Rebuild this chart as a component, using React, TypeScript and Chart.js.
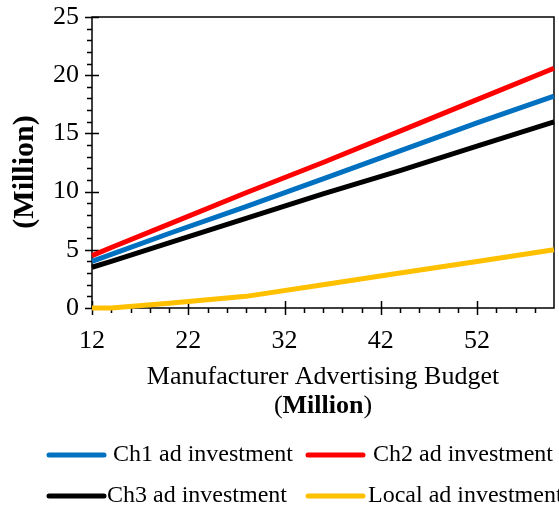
import React, { useEffect, useRef } from 'react';
import { Chart, registerables } from 'chart.js';

Chart.register(...registerables);

// ---- data ----
const budget = [12, 14, 20, 28, 36, 44, 52, 60];
const ch1 = [4.0, 4.6, 6.4, 8.7, 11.1, 13.5, 15.9, 18.2];
const ch2 = [4.5, 5.2, 7.2, 9.9, 12.5, 15.2, 17.9, 20.6];
const ch3 = [3.5, 4.0, 5.6, 7.7, 9.8, 11.8, 13.9, 16.0];
const local = [0, 0, 0.4, 1.0, 2.0, 3.0, 4.0, 5.0];
const seriesNames = ['Ch1 ad investment', 'Ch2 ad investment', 'Ch3 ad investment', 'Local ad investment'];
const xLabelTicks = [12, 22, 32, 42, 52];
const yLabelTicks = [0, 5, 10, 15, 20, 25];
const xTitle = 'Manufacturer Advertising Budget';
const unitText = 'Million';

// ---- styles ----
const colors = ['#0070C0', '#FF0000', '#000000', '#FFC000'];
const FONT = "'Liberation Serif', 'Times New Roman', serif";
const legendPos = [
  { lx: 49, tx: 113, y: 455 },
  { lx: 308, tx: 373, y: 455 },
  { lx: 49, tx: 107, y: 496 },
  { lx: 308, tx: 368, y: 496 },
];

const framePlugin = {
  id: 'frame',
  beforeDatasetsDraw(chart: any) {
    const { ctx, chartArea } = chart;
    const { left, right, top, bottom } = chartArea;
    const xs = chart.scales.x;
    const ys = chart.scales.y;
    ctx.save();
    ctx.strokeStyle = '#000';
    ctx.lineWidth = 1.5;
    ctx.beginPath();
    ctx.moveTo(left, top);
    ctx.lineTo(right, top);
    ctx.lineTo(right, bottom);
    ctx.lineTo(left, bottom);
    ctx.closePath();
    ctx.stroke();
    ctx.beginPath();
    xs.ticks.forEach((t: any) => {
      if (t.value >= xs.max) return;
      const px = Math.round(xs.getPixelForValue(t.value)) + 0.5;
      if (xLabelTicks.includes(t.value)) {
        ctx.moveTo(px, bottom - 7);
        ctx.lineTo(px, bottom + 7);
      } else {
        ctx.moveTo(px, bottom);
        ctx.lineTo(px, bottom + 5);
      }
    });
    ys.ticks.forEach((t: any) => {
      const py = Math.round(ys.getPixelForValue(t.value)) + 0.5;
      if (yLabelTicks.includes(t.value)) {
        ctx.moveTo(left - 7, py);
        ctx.lineTo(left + 7, py);
      } else {
        ctx.moveTo(left - 5, py);
        ctx.lineTo(left, py);
      }
    });
    ctx.stroke();
    ctx.restore();
  },
  afterDraw(chart: any) {
    const { ctx, chartArea } = chart;
    const cx = (chartArea.left + chartArea.right) / 2;
    ctx.save();
    ctx.fillStyle = '#000';
    ctx.textBaseline = 'middle';
    // x title
    ctx.textAlign = 'center';
    ctx.font = `26px ${FONT}`;
    ctx.fillText(xTitle, cx, 377);
    // mixed second line
    const regular = `26px ${FONT}`;
    const bold = `bold 26px ${FONT}`;
    ctx.font = regular;
    const wp = ctx.measureText('(').width;
    const wp2 = ctx.measureText(')').width;
    ctx.font = bold;
    const wm = ctx.measureText(unitText).width;
    let x = cx - (wp + wm + wp2) / 2;
    ctx.textAlign = 'left';
    ctx.font = regular;
    ctx.fillText('(', x, 406);
    x += wp;
    ctx.font = bold;
    ctx.fillText(unitText, x, 406);
    x += wm;
    ctx.font = regular;
    ctx.fillText(')', x, 406);
    // y title
    ctx.save();
    ctx.translate(25, 172);
    ctx.rotate(-Math.PI / 2);
    ctx.textAlign = 'center';
    ctx.font = `bold 30px ${FONT}`;
    ctx.fillText(`(${unitText})`, 0, 0);
    ctx.restore();
    // legend
    chart.data.datasets.forEach((ds: any, i: number) => {
      const p = legendPos[i];
      ctx.strokeStyle = ds.borderColor;
      ctx.lineWidth = 5;
      ctx.lineCap = 'round';
      ctx.beginPath();
      ctx.moveTo(p.lx, p.y);
      ctx.lineTo(p.lx + 55, p.y);
      ctx.stroke();
      ctx.font = `24px ${FONT}`;
      ctx.textAlign = 'left';
      ctx.fillStyle = '#000';
      ctx.fillText(ds.label, p.tx, p.y);
    });
    ctx.restore();
  },
};

export default function App() {
  const ref = useRef<HTMLCanvasElement>(null);
  useEffect(() => {
    document.body.style.margin = '0';
    const series = [ch1, ch2, ch3, local];
    const chart = new Chart(ref.current as HTMLCanvasElement, {
      type: 'line',
      data: {
        datasets: series.map((s, i) => ({
          label: seriesNames[i],
          data: budget.map((b, j) => ({ x: b, y: s[j] })),
          borderColor: colors[i],
          backgroundColor: colors[i],
          borderWidth: 5,
          pointRadius: 0,
          tension: 0,
          clip: false as any,
        })),
      },
      options: {
        responsive: false,
        animation: false,
        devicePixelRatio: 1,
        layout: { padding: { top: 17, right: 5, left: 0, bottom: 0 } },
        plugins: { legend: { display: false }, tooltip: { enabled: false } },
        scales: {
          x: {
            type: 'linear',
            min: 12,
            max: 60,
            grid: { display: false, drawTicks: false },
            border: { display: false },
            ticks: {
              stepSize: 2,
              autoSkip: false,
              maxRotation: 0,
              padding: 18,
              color: '#000',
              font: { family: FONT, size: 26 },
              callback: (v: any) => (xLabelTicks.includes(Number(v)) ? String(v) : ''),
            },
            afterFit: (s: any) => { s.height = 201; s.paddingLeft = 0; s.paddingRight = 0; },
          },
          y: {
            min: 0,
            max: 25,
            grid: { display: false, drawTicks: false },
            border: { display: false },
            ticks: {
              stepSize: 1,
              autoSkip: false,
              padding: 13,
              color: '#000',
              font: { family: FONT, size: 26 },
              callback: (v: any) => (yLabelTicks.includes(Number(v)) ? String(v) : ''),
            },
            afterFit: (s: any) => { s.width = 92; s.paddingTop = 0; s.paddingBottom = 0; },
          },
        },
      },
      plugins: [framePlugin],
    });
    return () => chart.destroy();
  }, []);
  return (
    <div style={{ width: 559, height: 509 }}>
      <canvas ref={ref} width={559} height={509} />
    </div>
  );
}
